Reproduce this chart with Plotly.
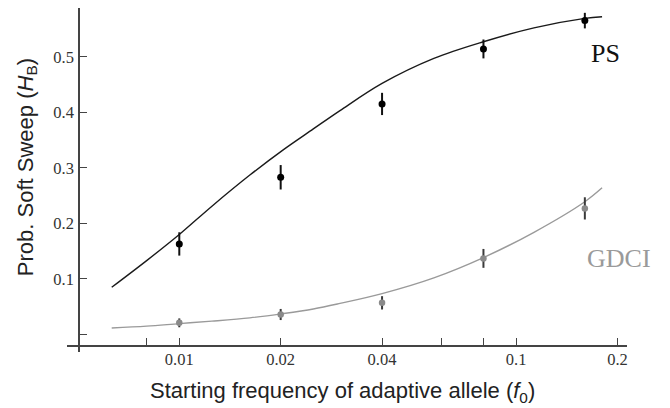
import plotly.graph_objects as go

# ---- data ----
f0 = [0.01, 0.02, 0.04, 0.08, 0.16]
ps_vals = [0.163, 0.283, 0.415, 0.514, 0.565]
ps_err = [0.021, 0.022, 0.020, 0.017, 0.014]
gdci_vals = [0.021, 0.036, 0.057, 0.137, 0.227]
gdci_err = [0.008, 0.010, 0.012, 0.017, 0.020]

curve_x = [0.0063, 0.008, 0.01, 0.0125, 0.0162, 0.0203, 0.025, 0.03, 0.04, 0.057, 0.08, 0.113, 0.16, 0.18]
ps_curve = [0.085, 0.133, 0.180, 0.231, 0.287, 0.332, 0.370, 0.403, 0.452, 0.497, 0.527, 0.552, 0.569, 0.572]
gdci_curve = [0.0117, 0.015, 0.0196, 0.024, 0.030, 0.0376, 0.046, 0.056, 0.0737, 0.102, 0.1385, 0.184, 0.239, 0.264]

x_tickvals = [0.01, 0.02, 0.04, 0.1, 0.2]
x_ticktext = ["0.01", "0.02", "0.04", "0.1", "0.2"]
x_minor = [0.008, 0.06, 0.08]
y_tickvals = [0.1, 0.2, 0.3, 0.4, 0.5]
y_ticktext = ["0.1", "0.2", "0.3", "0.4", "0.5"]
y_minor = [0]

fig = go.Figure()

fig.add_trace(go.Scatter(x=curve_x, y=ps_curve, mode="lines", line=dict(color="#1a1a1a", width=1.4, shape="spline"),
                         hoverinfo="skip"))
fig.add_trace(go.Scatter(x=curve_x, y=gdci_curve, mode="lines", line=dict(color="#9a9a9a", width=1.4, shape="spline"),
                         hoverinfo="skip"))
fig.add_trace(go.Scatter(x=f0, y=ps_vals, mode="markers", marker=dict(color="#000000", size=7),
                         error_y=dict(type="data", array=ps_err, visible=True, thickness=2, width=0, color="#111111")))
fig.add_trace(go.Scatter(x=f0, y=gdci_vals, mode="markers", marker=dict(color="#8a8a8a", size=6.5),
                         error_y=dict(type="data", array=gdci_err, visible=True, thickness=2, width=0, color="#3a3a3a")))

# plot-area edges in window pixels (page body has an 8px margin)
OFF = 8
L, R, T, B = 67, 627, 8, 351.7
WIN_W, WIN_H = 670, 408

def px(xp):
    return (xp - L) / (R - L)

def py(yp):
    return (B - yp) / (B - T)

tickfont = dict(family="Liberation Serif, Times New Roman, serif", size=16.5, color="#333333")

fig.update_layout(
    width=WIN_W - OFF, height=WIN_H - OFF,
    margin=dict(l=L - OFF, r=WIN_W - R, t=T - OFF, b=WIN_H - B, pad=0, autoexpand=False),
    paper_bgcolor="white", plot_bgcolor="white",
    showlegend=False,
    xaxis=dict(type="log", range=[-2.3334, -0.6707], anchor="free", position=py(345.7),
               showline=True, linecolor="#444444", linewidth=1.5, showgrid=False, zeroline=False,
               tickmode="array", tickvals=x_tickvals, ticktext=x_ticktext,
               ticks="inside", ticklen=7, tickwidth=1.4, tickcolor="#444444", tickfont=tickfont,
               ticklabelstandoff=-2,
               minor=dict(tickmode="array", tickvals=x_minor, ticks="inside", ticklen=7, tickwidth=1.4,
                          tickcolor="#444444", showgrid=False)),
    yaxis=dict(range=[-0.0315, 0.5877], anchor="free", position=px(79),
               showline=True, linecolor="#444444", linewidth=1.5, showgrid=False, zeroline=False,
               tickmode="array", tickvals=y_tickvals, ticktext=y_ticktext,
               ticks="inside", ticklen=7, tickwidth=1.4, tickcolor="#444444", tickfont=tickfont,
               ticklabelstandoff=1,
               minor=dict(tickmode="array", tickvals=y_minor, ticks="inside", ticklen=7, tickwidth=1.4,
                          tickcolor="#444444", showgrid=False)),
    annotations=[
        dict(text="Starting frequency of adaptive allele (<i>f</i><sub>0</sub>)", xref="paper", yref="paper",
             x=px(342), y=py(392), showarrow=False, xanchor="center", yanchor="middle",
             font=dict(family="Liberation Sans, Arial, sans-serif", size=22, color="#222222")),
        dict(text="Prob. Soft Sweep (<i>H</i><sub>B</sub>)", xref="paper", yref="paper",
             x=px(27), y=py(167), showarrow=False, textangle=-90, xanchor="center", yanchor="middle",
             font=dict(family="Liberation Sans, Arial, sans-serif", size=22, color="#222222")),
        dict(text="PS", xref="paper", yref="paper", x=px(605), y=py(53), showarrow=False,
             xanchor="center", yanchor="middle",
             font=dict(family="Liberation Serif, Times New Roman, serif", size=26, color="#111111")),
        dict(text="GDCI", xref="paper", yref="paper", x=px(619), y=py(258), showarrow=False,
             xanchor="center", yanchor="middle",
             font=dict(family="Liberation Serif, Times New Roman, serif", size=26, color="#9a9a9a")),
    ],
)

fig.write_html("out.html")
